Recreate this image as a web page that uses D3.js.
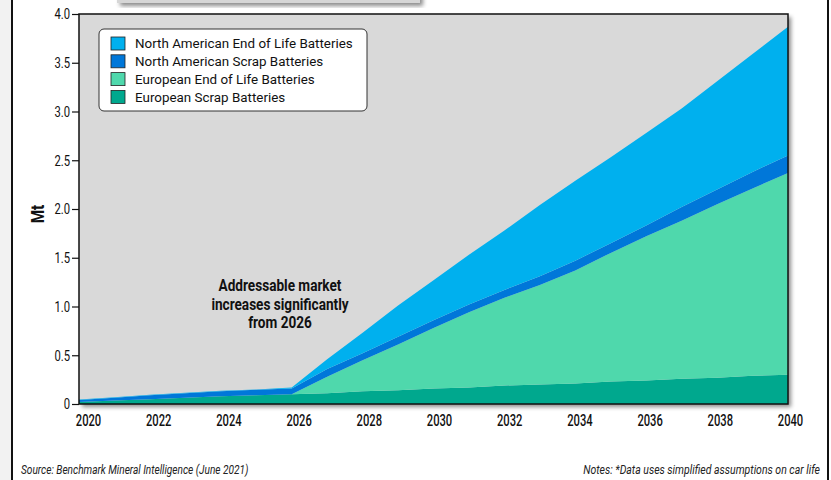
<!DOCTYPE html>
<html>
<head>
<meta charset="utf-8">
<script src="https://cdn.jsdelivr.net/npm/d3@7"></script>
<style>
  body { margin: 0; background: #fff; }
  svg { display: block; }
</style>
</head>
<body>
<svg id="chart_svg" width="831" height="480"></svg>
<script>
// years on the x axis
var YEARS = d3.range(2020, 2041);

// Mt per year
var EU_SCRAP = [0.02, 0.035, 0.05, 0.065, 0.08, 0.09, 0.10, 0.11, 0.13, 0.14, 0.16, 0.17, 0.19, 0.20, 0.21, 0.23, 0.24, 0.26, 0.27, 0.29, 0.30];
var EU_EOL   = [0, 0, 0, 0, 0, 0, 0, 0.17, 0.32, 0.47, 0.62, 0.77, 0.90, 1.02, 1.16, 1.32, 1.48, 1.62, 1.78, 1.92, 2.07];
var NA_SCRAP = [0.02, 0.03, 0.04, 0.045, 0.05, 0.055, 0.06, 0.08, 0.07, 0.08, 0.08, 0.08, 0.08, 0.09, 0.10, 0.10, 0.11, 0.14, 0.15, 0.17, 0.18];
var NA_EOL   = [0.005, 0.005, 0.005, 0.005, 0.005, 0.005, 0.01, 0.10, 0.21, 0.32, 0.41, 0.51, 0.61, 0.73, 0.82, 0.88, 0.95, 1.01, 1.11, 1.21, 1.32];

var SERIES_KEYS = ['eu_scrap', 'eu_eol', 'na_scrap', 'na_eol'];
var LEGEND_LABELS = ['North American End of Life Batteries', 'North American Scrap Batteries', 'European End of Life Batteries', 'European Scrap Batteries'];
var LEGEND_KEYS = ['na_eol', 'na_scrap', 'eu_eol', 'eu_scrap'];

var Y_TICKS = [0, 0.5, 1.0, 1.5, 2.0, 2.5, 3.0, 3.5, 4.0];
var X_TICKS = [2020, 2022, 2024, 2026, 2028, 2030, 2032, 2034, 2036, 2038, 2040];

var NOTE_LINES = ['Addressable market', 'increases significantly', 'from 2026'];

var font = "Roboto, 'DejaVu Sans', sans-serif";

// text squeezed sideways to look like the narrow font of the original
squeeze_text = function (g, x, y, sx, txt) {
    return g.append('g')
        .attr('transform', `translate(${x},${y}) scale(${sx},1)`)
        .append('text')
        .text(txt);
}

make_chart = function () {

    var data = YEARS.map(function (yr, i) {
        return { year: yr, eu_scrap: EU_SCRAP[i], eu_eol: EU_EOL[i], na_scrap: NA_SCRAP[i], na_eol: NA_EOL[i] };
    });

    margin = ({ top: 14, right: 43, bottom: 76, left: 79 });
    width = 831;
    height = 480;

    var svg = d3.select('#chart_svg');

    // drop shadow used for the frame and the title box
    var defs = svg.append('defs');
    var f = defs.append('filter').attr('id', 'shadow')
        .attr('x', '-10%').attr('y', '-10%').attr('width', '120%').attr('height', '130%');
    f.append('feDropShadow')
        .attr('dx', 3).attr('dy', 3).attr('stdDeviation', 2)
        .attr('flood-color', '#000').attr('flood-opacity', 0.45);

    // page side strips
    svg.append('rect').attr('x', 0).attr('y', 0).attr('width', 12).attr('height', height).attr('fill', '#f2f2f2');
    svg.append('line').attr('x1', 12).attr('x2', 12).attr('y1', 0).attr('y2', height)
        .attr('stroke', '#111').attr('stroke-width', 2);
    svg.append('line').attr('x1', 828).attr('x2', 828).attr('y1', 0).attr('y2', height)
        .attr('stroke', '#111').attr('stroke-width', 2);

    // cut off title box at the top
    svg.append('rect').attr('x', 117).attr('y', -20).attr('width', 303).attr('height', 23)
        .attr('fill', '#d6d6d6').attr('filter', 'url(#shadow)');

    var x = d3.scaleLinear()
        .domain([2020, 2040])
        .range([margin.left, width - margin.right]);

    // labels sit a little to the right of the data positions
    var xLabel = d3.scaleLinear()
        .domain([2020, 2040])
        .range([88, 790]);

    var y = d3.scaleLinear()
        .domain([0, 4])
        .range([height - margin.bottom, margin.top]);

    // plot background + frame
    svg.append('rect')
        .attr('x', x(2020)).attr('y', y(4))
        .attr('width', x(2040) - x(2020)).attr('height', y(0) - y(4))
        .attr('fill', '#d9d9d9')
        .attr('filter', 'url(#shadow)');

    series = d3.stack().keys(SERIES_KEYS)(data);

    color = d3.scaleOrdinal()
        .domain(SERIES_KEYS)
        .range(['#00a88e', '#4fd8ac', '#0077d9', '#00b0ee']);

    area = d3.area()
        .x(d => x(d.data.year))
        .y0(d => y(d[0]))
        .y1(d => y(d[1]));

    svg.append('g')
        .selectAll('path')
        .data(series)
        .join('path')
        .attr('fill', ({ key }) => color(key))
        .attr('d', area);

    svg.append('rect')
        .attr('x', x(2020)).attr('y', y(4))
        .attr('width', x(2040) - x(2020)).attr('height', y(0) - y(4))
        .attr('fill', 'none')
        .attr('stroke', '#111')
        .attr('stroke-width', 1.5);

    var ySx = 0.75;
    yAxis = g => g
        .attr('transform', `translate(${margin.left},0)`)
        .call(d3.axisLeft(y).tickValues(Y_TICKS).tickFormat(d => d === 0 ? '0' : d3.format('.1f')(d)).tickSize(7).tickPadding(2))
        .call(g => g.select('.domain').remove())
        .call(g => g.selectAll('.tick line').attr('stroke', '#111').attr('stroke-width', 1.2))
        .call(g => g.selectAll('.tick text')
            .attr('x', -9 / ySx)
            .attr('transform', `scale(${ySx},1)`)
            .attr('font-family', font)
            .attr('font-size', 15)
            .attr('fill', '#111'));

    xAxis = g => g
        .attr('transform', `translate(0,${height - margin.bottom})`)
        .call(d3.axisBottom(xLabel).tickValues(X_TICKS).tickFormat(d3.format('d')).tickSize(0).tickPadding(11))
        .call(g => g.select('.domain').remove())
        .call(g => g.selectAll('.tick text')
            .attr('transform', 'scale(0.7,1)')
            .attr('font-family', font)
            .attr('font-size', 16)
            .attr('font-weight', 500)
            .attr('fill', '#111'));

    svg.append('g').call(yAxis);
    svg.append('g').call(xAxis);

    svg.append('text')
        .attr('transform', 'translate(44,214) rotate(-90) scale(0.85,1)')
        .attr('text-anchor', 'middle')
        .attr('font-family', font)
        .attr('font-size', 18)
        .attr('font-weight', 'bold')
        .attr('fill', '#111')
        .text('Mt');

    // annotation
    var note = svg.append('g')
        .attr('font-family', font)
        .attr('font-size', 17)
        .attr('font-weight', 'bold')
        .attr('fill', '#111')
        .attr('text-anchor', 'middle');
    NOTE_LINES.forEach(function (t, i) {
        squeeze_text(note, 280, 291 + i * 18.5, 0.8, t);
    });

    // legend
    var lg = svg.append('g').attr('transform', 'translate(99,29)');
    lg.append('rect')
        .attr('width', 268).attr('height', 82).attr('rx', 5)
        .attr('fill', '#fff').attr('stroke', '#333').attr('stroke-width', 1);

    var row = lg.selectAll('g.row')
        .data(LEGEND_KEYS)
        .join('g')
        .attr('class', 'row')
        .attr('transform', (d, i) => `translate(12,${8 + i * 17.8})`);

    row.append('rect')
        .attr('width', 14).attr('height', 13)
        .attr('fill', d => color(d))
        .attr('stroke', '#222').attr('stroke-width', 0.8);

    row.append('text')
        .attr('x', 24).attr('y', 6.5).attr('dy', '0.35em')
        .attr('font-family', font)
        .attr('font-size', 13.4)
        .attr('fill', '#111')
        .text((d, i) => LEGEND_LABELS[i]);

    // footer
    var foot = svg.append('g')
        .attr('font-family', font)
        .attr('font-size', 12.5)
        .attr('font-style', 'italic')
        .attr('fill', '#222');
    squeeze_text(foot, 21, 474, 0.81, 'Source: Benchmark Mineral Intelligence (June 2021)');
    squeeze_text(foot, 820, 474, 0.84, 'Notes: *Data uses simplified assumptions on car life')
        .attr('text-anchor', 'end');
}

make_chart();
</script>
</body>
</html>
